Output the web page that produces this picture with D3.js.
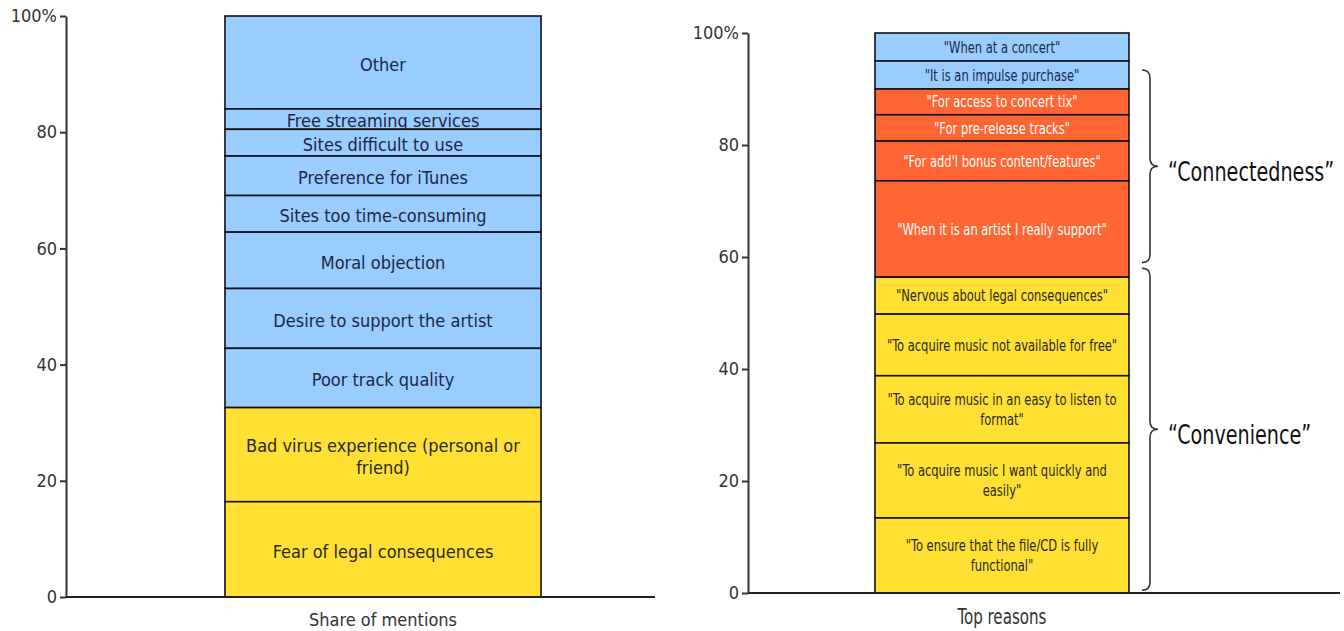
<!DOCTYPE html>
<html>
<head>
<meta charset="utf-8">
<script src="https://cdn.jsdelivr.net/npm/d3@7"></script>
<style>
  body { margin: 0; background: #fff; }
  .axis text { font-family: "DejaVu Sans Condensed", "Liberation Sans", sans-serif; font-size: 18px; fill: #333; }
  .axis path, .axis line { stroke: #333; stroke-width: 2; }
</style>
</head>
<body>
<div id="chart"></div>
<script>
// Left chart: share of mentions (bottom to top)
const leftCategories = [
    "Fear of legal consequences",
    "Bad virus experience (personal or\nfriend)",
    "Poor track quality",
    "Desire to support the artist",
    "Moral objection",
    "Sites too time-consuming",
    "Preference for iTunes",
    "Sites difficult to use",
    "Free streaming services",
    "Other"
];
const leftValues = [16.4, 16.2, 10.2, 10.3, 9.7, 6.3, 6.8, 4.6, 3.5, 16.0];
const leftGroups = ["Risk", "Risk", "Other", "Other", "Other", "Other", "Other", "Other", "Other", "Other"];

// Right chart: top reasons (bottom to top)
const rightCategories = [
    "\"To ensure that the file/CD is fully\nfunctional\"",
    "\"To acquire music I want quickly and\neasily\"",
    "\"To acquire music in an easy to listen to\nformat\"",
    "\"To acquire music not available for free\"",
    "\"Nervous about legal consequences\"",
    "\"When it is an artist I really support\"",
    "\"For add'l bonus content/features\"",
    "\"For pre-release tracks\"",
    "\"For access to concert tix\"",
    "\"It is an impulse purchase\"",
    "\"When at a concert\""
];
const rightValues = [13.4, 13.4, 12.0, 11.0, 6.6, 17.2, 7.1, 4.7, 4.6, 5.0, 5.0];
const rightGroups = ["Risk", "Risk", "Risk", "Risk", "Risk", "Connected", "Connected", "Connected", "Connected", "Other", "Other"];

// Brace annotations on the right chart (value ranges)
const braceLabels = ["\u201CConnectedness\u201D", "\u201CConvenience\u201D"];
const braceRanges = [[59.0, 93.4], [0.5, 58.0]];

const tickValues = [0, 20, 40, 60, 80, 100];

const width = 1344, height = 631;
const narrowFont = "DejaVu Sans Condensed, sans-serif";
const wideFont = "DejaVu Sans Condensed, Liberation Sans, sans-serif";

const svg = d3.select("#chart")
    .append("svg")
    .attr("width", width)
    .attr("height", height);

const colorScale = d3.scaleOrdinal()
    .domain(["Other", "Risk", "Connected"])
    .range(["#99CCFF", "#FFE033", "#FF6633"]);
const textColor = d3.scaleOrdinal()
    .domain(["Other", "Risk", "Connected"])
    .range(["#1c2747", "#2a2a1a", "#ffffff"]);

const tickFormat = d => d === 100 ? "100%" : d;

function drawPanel(opts) {
    const y = d3.scaleLinear().domain([0, 100]).range([opts.bottom, opts.top]);
    const x = d3.scaleBand().domain([opts.axisLabel])
        .range(opts.bandRange).paddingOuter(opts.pad).paddingInner(0);

    const g = svg.append("g");

    // y axis
    g.append("g")
        .attr("class", "axis")
        .attr("transform", `translate(${opts.left},0)`)
        .call(d3.axisLeft(y).tickValues(tickValues).tickFormat(tickFormat).tickSize(6).tickSizeOuter(0))
        .call(a => a.selectAll("text").attr("x", -9));

    // stacked segments, drawn from top to bottom so lower boxes cover overflowing text
    const starts = [0, ...d3.cumsum(opts.values)];
    const segs = opts.categories.map((c, i) => ({
        label: c, group: opts.groups[i], y0: starts[i], y1: starts[i + 1]
    })).reverse();

    const bx = x(opts.axisLabel), bw = x.bandwidth(), cx = bx + bw / 2;
    const seg = g.selectAll(".seg").data(segs).enter().append("g").attr("class", "seg");

    seg.append("rect")
        .attr("x", bx)
        .attr("y", d => y(d.y1))
        .attr("width", bw)
        .attr("height", d => y(d.y0) - y(d.y1))
        .attr("fill", d => colorScale(d.group))
        .attr("stroke", "#111")
        .attr("stroke-width", 1.6);

    seg.append("text")
        .attr("text-anchor", "middle")
        .attr("transform", `translate(${cx},0) scale(${opts.stretch},1)`)
        .attr("font-family", opts.font)
        .attr("font-size", opts.labelSize)
        .attr("fill", d => textColor(d.group))
        .each(function(d) {
            const lines = d.label.split("\n");
            const lh = opts.labelSize * 1.2;
            const cy = (y(d.y0) + y(d.y1)) / 2 - (lines.length - 1) * lh / 2;
            lines.forEach((l, k) => {
                d3.select(this).append("tspan")
                    .attr("x", 0)
                    .attr("y", cy + k * lh + opts.labelShift)
                    .attr("dy", "0.35em")
                    .text(l);
            });
        });

    // baseline
    g.append("line")
        .attr("x1", opts.left).attr("x2", opts.right)
        .attr("y1", y(0)).attr("y2", y(0))
        .attr("stroke", "#222").attr("stroke-width", 2);

    // x label
    g.append("text")
        .attr("transform", `translate(${cx},${y(0) + opts.xLabelOffset}) scale(${opts.stretch},1)`)
        .attr("text-anchor", "middle")
        .attr("font-family", opts.font)
        .attr("font-size", opts.xLabelSize)
        .attr("fill", "#333")
        .text(opts.axisLabel);

    return { y, bx, bw };
}

drawPanel({
    categories: leftCategories, values: leftValues, groups: leftGroups,
    axisLabel: "Share of mentions",
    top: 16, bottom: 597, left: 66, right: 655,
    bandRange: [66, 700], pad: 0.503,
    font: wideFont, labelSize: 18, labelShift: 2, stretch: 1,
    xLabelSize: 18, xLabelOffset: 29
});

const right = drawPanel({
    categories: rightCategories, values: rightValues, groups: rightGroups,
    axisLabel: "Top reasons",
    top: 33, bottom: 593, left: 748, right: 1340,
    bandRange: [748, 1256], pad: 0.5,
    font: narrowFont, labelSize: 16, labelShift: 0, stretch: 0.8,
    xLabelSize: 21, xLabelOffset: 31
});

// Curly braces grouping the right chart's segments
const braceX = 1142, q = 8;
braceRanges.forEach((r, i) => {
    const yTop = right.y(r[1]), yBot = right.y(r[0]), mid = (yTop + yBot) / 2;
    const path = `M${braceX},${yTop} Q${braceX + q},${yTop} ${braceX + q},${yTop + q}
        L${braceX + q},${mid - q} Q${braceX + q},${mid} ${braceX + 2 * q},${mid}
        Q${braceX + q},${mid} ${braceX + q},${mid + q}
        L${braceX + q},${yBot - q} Q${braceX + q},${yBot} ${braceX},${yBot}`;
    svg.append("path")
        .attr("d", path)
        .attr("fill", "none")
        .attr("stroke", "#333")
        .attr("stroke-width", 1.6);
    svg.append("text")
        .attr("transform", `translate(${braceX + 26},${mid + 6}) scale(0.82,1)`)
        .attr("dy", "0.35em")
        .attr("font-family", narrowFont)
        .attr("font-size", 26)
        .attr("fill", "#111")
        .text(braceLabels[i]);
});
</script>
</body>
</html>
